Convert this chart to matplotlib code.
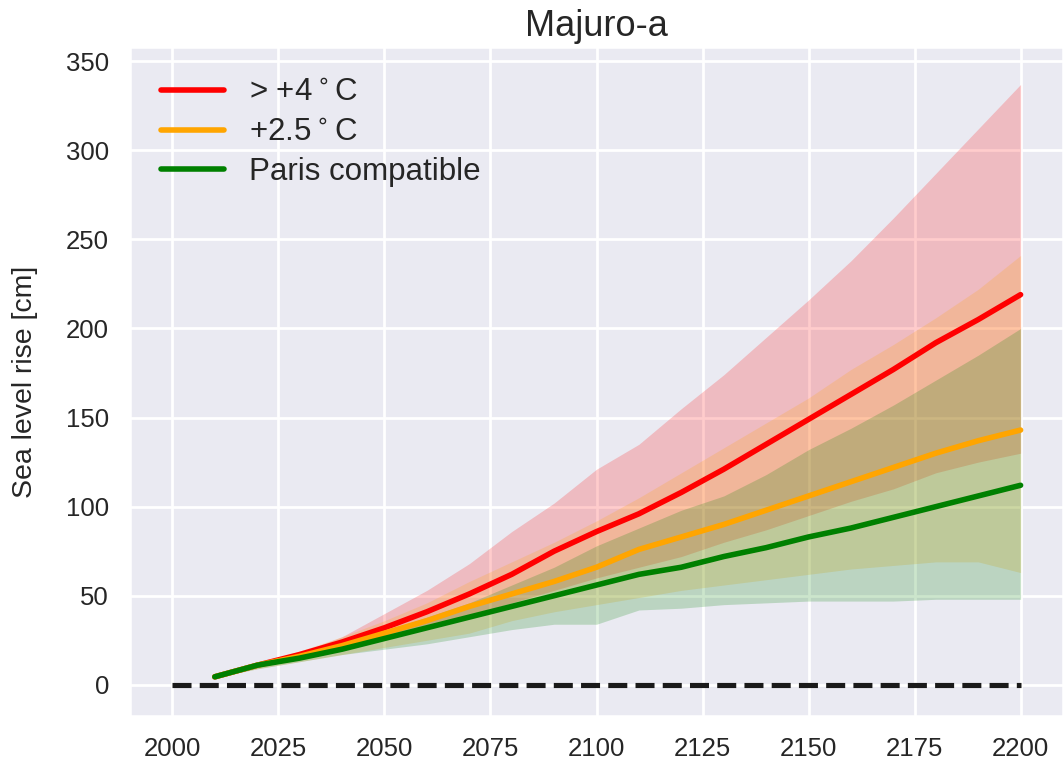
import matplotlib
matplotlib.use("Agg")
import matplotlib.pyplot as plt
import seaborn as sns

# Projected sea level rise at Majuro, median and likely range per scenario
years = [2010, 2020, 2030, 2040, 2050, 2060, 2070, 2080, 2090, 2100,
         2110, 2120, 2130, 2140, 2150, 2160, 2170, 2180, 2190, 2200]

high_med = [4.5, 11, 17, 24, 32, 41, 51, 62, 75, 86,
            96, 108, 121, 135, 149, 163, 177, 192, 205, 219]
high_lo = [4, 10, 15, 20, 26, 32, 39, 46, 53, 60,
           66, 72, 80, 87, 95, 103, 110, 119, 125, 130]
high_hi = [5, 11, 18, 27, 40, 53, 68, 86, 102, 121,
           135, 155, 174, 195, 216, 238, 262, 287, 312, 337]

mid_med = [4.5, 11, 16, 22, 29, 36, 44, 51, 58, 66,
           76, 83, 90, 98, 106, 114, 122, 130, 137, 143]
mid_lo = [4, 9, 13, 17, 21, 25, 29, 36, 41, 45,
          49, 53, 56, 59, 62, 65, 67, 69, 69, 63]
mid_hi = [5, 12, 19, 27, 36, 46, 58, 69, 80, 92,
          105, 119, 133, 147, 161, 177, 191, 206, 222, 241]

paris_med = [4.5, 11, 15, 20, 26, 32, 38, 44, 50, 56,
             62, 66, 72, 77, 83, 88, 94, 100, 106, 112]
paris_lo = [4, 9, 13, 17, 20, 23, 27, 31, 34, 34,
            42, 43, 45, 46, 47, 47, 47, 48, 48, 48]
paris_hi = [5, 12, 17, 23, 30, 38, 46, 56, 66, 78,
            88, 98, 106, 118, 132, 144, 157, 171, 185, 200]

baseline_years = [2000, 2200]
baseline = [0, 0]

scenarios = [
    ("> +4$^\\circ$C", "red", high_med, high_lo, high_hi),
    ("+2.5$^\\circ$C", "orange", mid_med, mid_lo, mid_hi),
    ("Paris compatible", "green", paris_med, paris_lo, paris_hi),
]

sns.set_theme(style="darkgrid", context="talk")
plt.rcParams["font.family"] = ["Liberation Sans", "DejaVu Sans"]
plt.rcParams["grid.linewidth"] = 2.0

fig = plt.figure(figsize=(10.63, 7.59), dpi=100)
ax = fig.add_axes([130 / 1063, 1 - 716 / 759, 933 / 1063, 669 / 759])

for label, color, med, lo, hi in scenarios:
    ax.fill_between(years, lo, hi, color=color, alpha=0.2, linewidth=0)
for label, color, med, lo, hi in scenarios:
    ax.plot(years, med, color=color, lw=4, label=label,
            solid_capstyle="round")

ax.plot(baseline_years, baseline, "k--", lw=3.7)

ax.set_xlim(1990, 2210)
ax.set_ylim(-17.5, 358)
ax.set_xticks(range(2000, 2201, 25))
ax.set_yticks(range(0, 351, 50))
ax.tick_params(labelsize=18.5, pad=6)
ax.set_ylabel("Sea level rise [cm]", fontsize=20.5, labelpad=20)
ax.set_title("Majuro-a", fontsize=26, pad=8)
ax.legend(loc="upper left", fontsize=22.5, frameon=False,
          borderaxespad=0.6, labelspacing=0.3)

fig.savefig("out.png", dpi=100)
